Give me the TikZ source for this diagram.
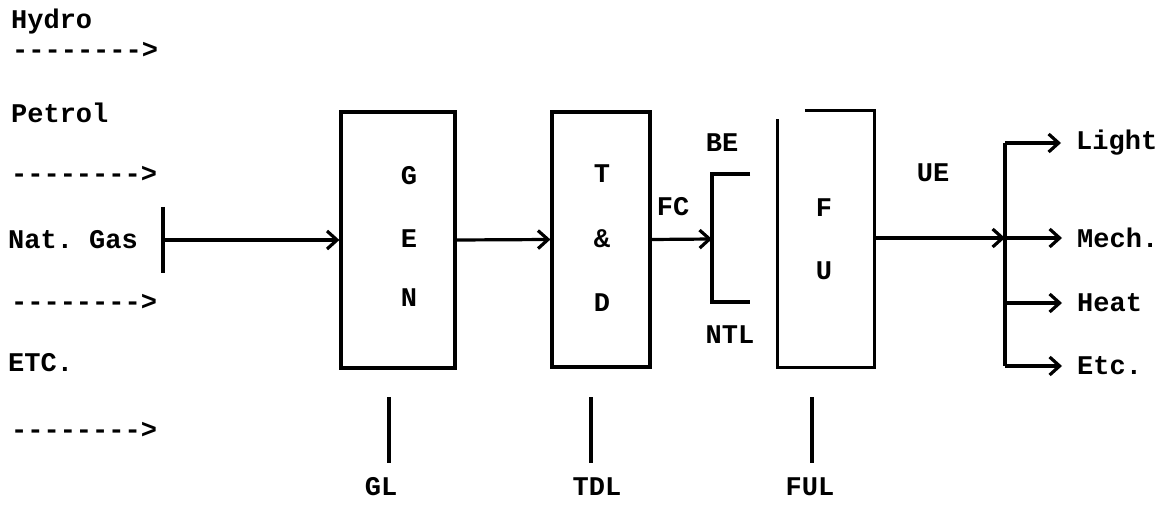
\documentclass[tikz,border=0pt]{standalone}
\usepackage{fontspec}
\setmonofont{Liberation Mono}
\usetikzlibrary{arrows.meta}
\begin{document}
\begin{tikzpicture}[x=1pt,y=-1pt,
  every node/.style={font=\fontsize{27}{30}\selectfont\ttfamily\bfseries},
  lbl/.style={anchor=west,inner sep=0pt},
  txt/.style={inner sep=0pt},
  ln/.style={line width=3.2pt},
  arr/.style={ln,-{Straight Barb[length=10pt,width=18pt,line width=3.2pt]}},
  boxn/.style={draw,line width=3.2pt,inner sep=0pt}]
\useasboundingbox (0,0) rectangle (1165,505);
% left inputs
\node[lbl] (hydro) at (11,22) {Hydro};
\node[lbl] (d1) at (12,50) {-{}-{}-{}-{}-{}-{}-{}->};
\node[lbl] (petrol) at (11,113) {Petrol};
\node[lbl] (d2) at (11,174) {-{}-{}-{}-{}-{}-{}-{}->};
\node[lbl] (gas) at (8,240) {Nat. Gas};
\node[lbl] (d3) at (11,302) {-{}-{}-{}-{}-{}-{}-{}->};
\node[lbl] (etc) at (8,363) {ETC.};
\node[lbl] (d4) at (11,430) {-{}-{}-{}-{}-{}-{}-{}->};
% tick
\coordinate (tt) at (163,207);
\coordinate (tb) at (163,273);
\coordinate (tm) at (163,240);
\draw[ln] (tt) -- (tb);
% boxes
\node[boxn,minimum width=114pt,minimum height=256pt] (gen) at (398,240) {};
\node[boxn,minimum width=98pt,minimum height=255pt] (td) at (601,239.5) {};
\node[inner sep=0pt,minimum width=96pt,minimum height=256pt] (fu) at (826,239) {};
\draw[ln] ([xshift=27pt]fu.north west) -- (fu.north east) -- (fu.south east) -- (fu.south west) -- ([yshift=-8pt]fu.north west);
% box letters
\node[txt] (g) at (409,176) {G};
\node[txt] (e) at (409,239) {E};
\node[txt] (n) at (409,298) {N};
\node[txt] (t) at (602,174) {T};
\node[txt] (amp) at (602,239) {\&};
\node[txt] (dd) at (602,303) {D};
\node[txt] (f) at (824,208) {F};
\node[txt] (u) at (824,271) {U};
% main flow
\draw[arr] (tm) -- (gen.west);
\draw[arr] (gen.east) -- (td.west);
\coordinate (br) at (712,239);
\coordinate (brt) at (712,174);
\coordinate (brb) at (712,302);
\coordinate (brte) at (750,174);
\coordinate (brbe) at (750,302);
\draw[arr] (td.east) -- (br);
\draw[ln] (brte) -- (brt) -- (brb) -- (brbe);
\node[txt] (fc) at (673,207) {FC};
\node[txt] (be) at (722,143) {BE};
\node[txt] (ntl) at (730,335) {NTL};
\node[txt] (ue) at (933,173) {UE};
% end uses
\coordinate (sp) at (1005,238);
\coordinate (spt) at (1005,143);
\coordinate (spb) at (1005,366);
\coordinate (sph) at (1005,303);
\draw[arr] (fu.east|-sp) -- (sp);
\draw[ln] (spt) -- (spb);
\node[lbl] (light) at (1076,143) {Light};
\node[lbl] (mech) at (1077,238) {Mech.};
\node[lbl] (heat) at (1077,303) {Heat};
\node[lbl] (etc2) at (1077,366) {Etc.};
\draw[arr,shorten >=15pt] (spt) -- (light.west);
\draw[arr,shorten >=15pt] (sp) -- (mech.west);
\draw[arr,shorten >=15pt] (sph) -- (heat.west);
\draw[arr,shorten >=15pt] (spb) -- (etc2.west);
% losses
\coordinate (gl1) at (389,397);
\coordinate (td1) at (591,397);
\coordinate (fu1) at (812,397);
\node[txt] (gl) at (381,487) {GL};
\node[txt] (tdl) at (597,487) {TDL};
\node[txt] (ful) at (810,487) {FUL};
\draw[ln] (gl1) -- (gl1|-0,463);
\draw[ln] (td1) -- (td1|-0,463);
\draw[ln] (fu1) -- (fu1|-0,463);
\end{tikzpicture}
\end{document}
